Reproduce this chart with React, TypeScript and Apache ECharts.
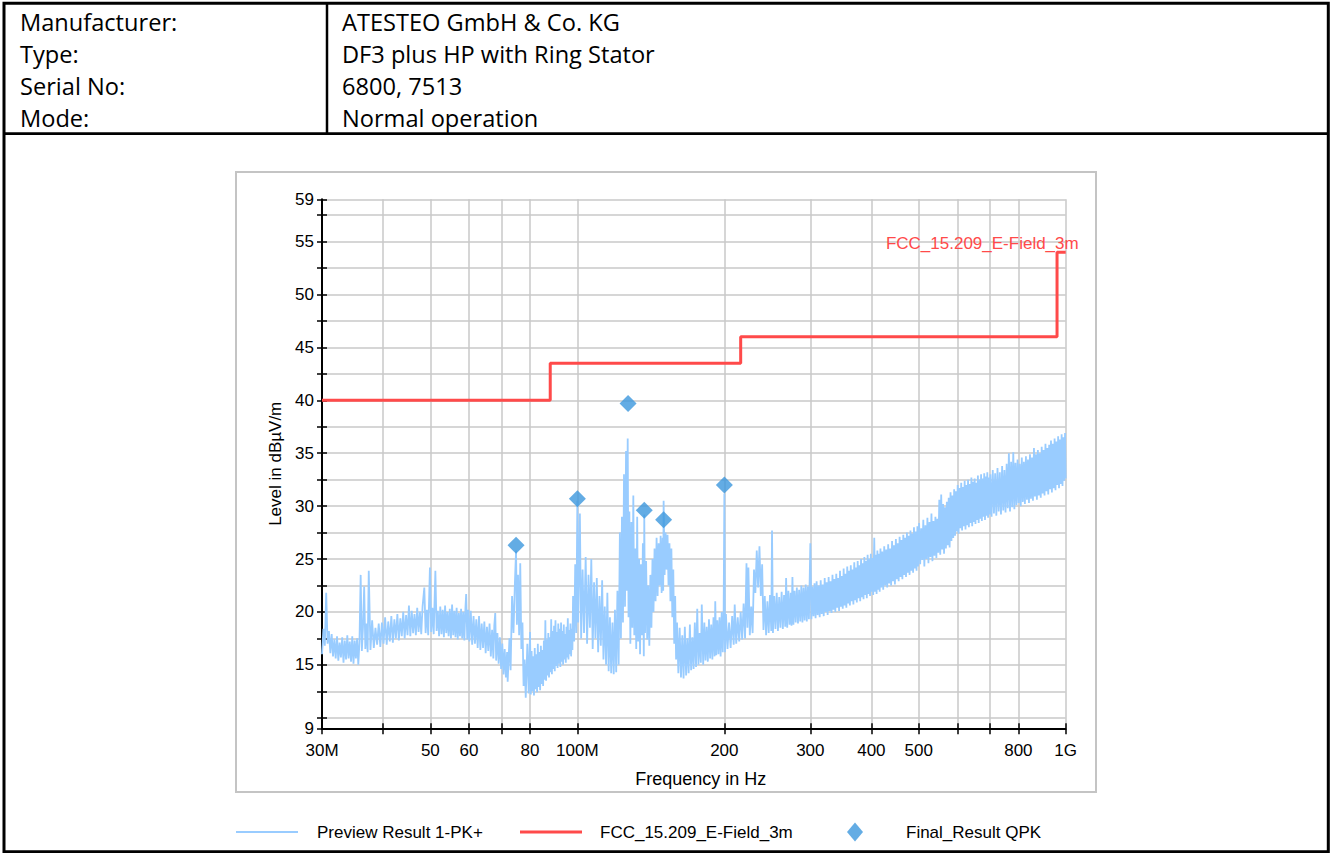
import React, { useEffect, useRef } from 'react';
import * as echarts from 'echarts';

const headerLabels = ['Manufacturer:', 'Type:', 'Serial No:', 'Mode:'];
const headerValues = ['ATESTEO GmbH & Co. KG', 'DF3 plus HP with Ring Stator', '6800, 7513', 'Normal operation'];

const limitName = 'FCC_15.209_E-Field_3m';
const traceName = 'Preview Result 1-PK+';
const qpkName = 'Final_Result QPK';

const limitFreqMHz = [30, 88, 216, 960, 1000];
const limitLevel = [40, 43.5, 46, 54, 54];

const qpkFreqMHz = [74.9, 100.0, 127.0, 137.1, 150.2, 200.0];
const qpkLevel = [26.3, 30.7, 39.7, 29.6, 28.7, 32.0];

const xTickFreqMHz = [30, 40, 50, 60, 70, 80, 100, 200, 300, 400, 500, 600, 700, 800, 1000];
const xLabelFreqMHz = [30, 50, 60, 80, 100, 200, 300, 400, 500, 800, 1000];
const xLabelText = ['30M', '50', '60', '80', '100M', '200', '300', '400', '500', '800', '1G'];

const yTickValues = [9, 10, 12.5, 15, 17.5, 20, 22.5, 25, 27.5, 30, 32.5, 35, 37.5, 40, 42.5, 45, 47.5, 50, 52.5, 55, 57.5, 59];
const yLabelValues = [9, 15, 20, 25, 30, 35, 40, 45, 50, 55, 59];

// [frequency in MHz, level in dBµV/m]
const previewTrace: [number, number][] = [
  [30.0, 16.0], [30.2, 18.4], [30.4, 16.8], [30.6, 21.8], [30.8, 17.0], [31.0, 18.2], [31.2, 16.1], [31.4, 17.9],
  [31.6, 15.8], [31.8, 17.4], [32.0, 15.6], [32.2, 17.7], [32.4, 15.4], [32.6, 17.1], [32.8, 15.7], [33.0, 17.6],
  [33.2, 15.2], [33.4, 17.3], [33.6, 15.5], [33.8, 17.8], [34.0, 15.6], [34.2, 17.2], [34.4, 15.3], [34.6, 17.7],
  [34.8, 15.1], [35.0, 17.3], [35.2, 15.6], [35.4, 17.5], [35.6, 15.0], [35.8, 17.2], [36.0, 23.5], [36.2, 16.3],
  [36.4, 18.6], [36.6, 22.4], [36.8, 16.5], [37.0, 18.9], [37.2, 16.2], [37.4, 23.9],
  [37.7, 16.4], [38.0, 19.2], [38.3, 16.6], [38.6, 18.5], [38.9, 16.9], [39.2, 18.9], [39.5, 16.7], [39.8, 19.0],
  [40.1, 17.0], [40.4, 19.5], [40.7, 16.9], [41.0, 19.1], [41.3, 17.2], [41.6, 19.6], [41.9, 17.1], [42.2, 19.3],
  [42.5, 17.5], [42.8, 19.8], [43.1, 17.3], [43.4, 19.4], [43.7, 17.7], [44.0, 20.0], [44.3, 17.5], [44.6, 19.7],
  [44.9, 17.8], [45.2, 20.6], [45.5, 17.7], [45.8, 20.1], [46.1, 18.0], [46.4, 19.8], [46.7, 17.8], [47.0, 20.4],
  [47.3, 18.1], [47.6, 20.0], [47.9, 17.9], [48.2, 20.5], [48.6, 22.3], [48.9, 18.0], [49.2, 20.2], [49.5, 17.8],
  [49.9, 24.2], [50.2, 18.1], [50.5, 20.4], [50.8, 17.9], [51.2, 23.9], [51.5, 18.2], [51.8, 20.1], [52.1, 17.7],
  [52.4, 20.5], [52.7, 17.9], [53.0, 20.2], [53.3, 17.6], [53.6, 20.6], [53.9, 18.0], [54.2, 20.0], [54.5, 17.7],
  [54.8, 20.3], [55.1, 17.5], [55.4, 20.7], [55.7, 17.8], [56.0, 20.1], [56.3, 17.6], [56.6, 20.4], [56.9, 17.4],
  [57.2, 19.9], [57.5, 17.7], [57.8, 20.3], [58.1, 17.5], [58.4, 20.0], [58.7, 17.3], [59.0, 20.4], [59.2, 21.7],
  [59.5, 17.4], [59.8, 20.2], [60.1, 17.2], [60.5, 20.1], [60.9, 16.9], [61.3, 19.6], [61.7, 17.0], [62.1, 19.3],
  [62.5, 16.6], [62.9, 19.6], [63.3, 16.4], [63.7, 18.9], [64.1, 16.6], [64.5, 19.1], [64.9, 16.1], [65.3, 18.6],
  [65.7, 16.3], [66.1, 18.9], [66.5, 15.8], [66.9, 18.3], [67.3, 15.6], [67.6, 18.7], [67.9, 19.9], [68.2, 15.4],
  [68.6, 18.0], [69.0, 15.1], [69.4, 17.6], [69.8, 14.6], [70.2, 17.0], [70.6, 14.1], [71.0, 16.5], [71.4, 13.8],
  [71.8, 16.2], [72.0, 13.4],
  [72.6, 17.5], [73.0, 14.5], [73.5, 21.5], [74.0, 18.0], [74.5, 22.8], [74.9, 25.8], [75.2, 18.8], [75.6, 23.5],
  [76.0, 17.8], [76.4, 24.6], [76.8, 16.5], [77.2, 19.0], [77.6, 13.0], [78.0, 15.5], [78.4, 11.9], [79.0, 17.0],
  [79.5, 12.3], [80.0, 18.1],
  [80.3, 12.2], [80.6, 16.3], [80.9, 12.5], [81.2, 15.8], [81.5, 12.1], [81.8, 16.6], [82.1, 12.7], [82.4, 16.0],
  [82.7, 12.4], [83.0, 17.0], [83.3, 12.9], [83.6, 16.2], [83.9, 12.6], [84.2, 16.8], [84.5, 13.2], [84.8, 16.4],
  [85.1, 13.0], [85.4, 17.3], [85.7, 13.6], [86.0, 19.2], [86.3, 13.5], [86.6, 17.4], [86.9, 14.0], [87.2, 18.0],
  [87.5, 13.8], [87.8, 17.6], [88.1, 14.3], [88.4, 19.3], [88.7, 14.1], [89.0, 18.2], [89.3, 14.6], [89.6, 18.7],
  [89.9, 14.4], [90.2, 19.2], [90.5, 14.9], [90.8, 18.1], [91.1, 14.7], [91.4, 18.9], [91.7, 15.1], [92.0, 18.4],
  [92.3, 14.8], [92.6, 19.0], [92.9, 15.3], [93.2, 18.2], [93.5, 15.0], [93.8, 18.8], [94.1, 15.5], [94.4, 17.9],
  [94.7, 15.2], [95.0, 18.6], [95.3, 15.7], [95.6, 19.4], [95.9, 15.5], [96.2, 18.3], [96.5, 16.0], [96.8, 18.9],
  [97.1, 15.8], [97.4, 18.4], [97.7, 16.4], [98.0, 21.5], [98.5, 17.2], [99.0, 24.5], [99.5, 18.0], [100.0, 30.5],
  [100.4, 19.0], [100.8, 24.0], [101.2, 29.3],
  [101.8, 17.5], [102.5, 24.0], [103.2, 18.0], [104.0, 25.2], [104.7, 17.0], [105.4, 23.5], [106.1, 18.5], [106.8, 25.0],
  [107.5, 16.5], [108.2, 22.8], [108.9, 17.5], [109.6, 23.2], [110.3, 16.2], [111.0, 21.5], [111.7, 16.8], [112.4, 23.0],
  [113.1, 15.5], [113.8, 20.5], [114.5, 15.0], [115.2, 21.8], [115.9, 14.4], [116.6, 19.5], [117.3, 14.2], [118.0, 19.0],
  [118.7, 14.1], [119.4, 20.2], [120.1, 14.3], [120.8, 22.0], [121.5, 15.0], [122.2, 27.5], [122.8, 17.5], [123.4, 29.0],
  [124.0, 19.0], [124.6, 33.0], [125.2, 20.5], [125.8, 35.2], [126.3, 22.0], [126.8, 36.4], [127.3, 19.5], [127.8, 29.5],
  [128.4, 17.0], [129.0, 28.5], [129.6, 18.5], [130.2, 31.0], [130.8, 17.8], [131.4, 26.0], [132.0, 16.5], [132.6, 29.0],
  [133.2, 17.2], [133.8, 25.0], [134.4, 16.0], [135.0, 24.5], [135.6, 17.8], [136.2, 26.5], [136.8, 15.8], [137.1, 29.2],
  [137.6, 18.0], [138.3, 24.8], [139.0, 17.4], [139.7, 22.5], [140.4, 16.8], [141.1, 23.5], [141.8, 18.5], [142.5, 25.0],
  [143.2, 20.0], [143.9, 26.0], [144.6, 21.0], [145.3, 27.0], [146.0, 21.5], [146.7, 26.5], [147.4, 22.5], [148.1, 27.2],
  [148.8, 21.8], [149.5, 27.0], [149.9, 22.0], [150.2, 30.5], [150.9, 23.5], [151.6, 27.5], [152.3, 24.0], [153.0, 27.3],
  [153.7, 22.5], [154.4, 26.5], [155.1, 21.0], [155.8, 26.0], [156.5, 19.5], [157.2, 24.0], [157.9, 17.0], [158.6, 21.5],
  [159.3, 15.5], [160.0, 19.0], [161.0, 14.2], [162.0, 18.5], [163.0, 13.8], [164.0, 17.8], [165.0, 13.7], [166.0, 18.6],
  [167.0, 14.0], [168.0, 17.5], [169.0, 14.2], [170.0, 18.8], [171.0, 14.5], [172.0, 17.6], [173.0, 14.6], [174.0, 19.0],
  [175.0, 14.8], [176.0, 20.3], [177.0, 15.0], [178.0, 18.0], [179.0, 15.2], [179.8, 20.7], [181.0, 15.0], [182.0, 19.0],
  [183.0, 15.4], [184.0, 18.6], [185.0, 15.3], [186.0, 19.3], [187.0, 15.6], [188.0, 18.8], [189.0, 15.5], [190.0, 19.5],
  [191.0, 15.8], [191.6, 21.0], [192.5, 15.9], [193.5, 19.2], [194.5, 16.0], [195.5, 19.5], [196.5, 15.8], [197.5, 20.0],
  [198.5, 16.2], [199.3, 19.5], [200.0, 31.2], [200.6, 16.2],
  [201.5, 19.8], [203.0, 16.5], [204.5, 19.0], [206.0, 16.6], [207.5, 19.6], [209.0, 16.9], [210.0, 20.7], [211.5, 17.0],
  [213.0, 19.5], [214.5, 17.2], [216.0, 20.0], [217.5, 17.4], [219.0, 20.8], [220.5, 17.5], [222.0, 24.6], [223.0, 18.5],
  [224.0, 24.2], [225.5, 17.8], [227.0, 20.5], [228.5, 18.0], [230.0, 24.0], [231.5, 21.8], [233.0, 25.8], [234.5, 22.3],
  [236.0, 26.2], [237.5, 21.5], [239.0, 24.5], [240.5, 18.3], [242.0, 21.5], [243.5, 17.8], [245.0, 21.0], [246.5, 18.0],
  [248.0, 21.6], [249.5, 18.2], [250.4, 27.7], [251.5, 18.0], [253.0, 21.5], [254.5, 18.4], [256.0, 21.8], [257.5, 18.2],
  [259.0, 21.4], [260.5, 18.5], [262.0, 21.9], [263.5, 18.4], [265.0, 21.6], [266.5, 18.6], [267.6, 23.2], [269.0, 18.5],
  [270.5, 22.0], [272.0, 18.8], [273.5, 21.8], [274.5, 18.7], [275.7, 23.3], [277.0, 18.8], [278.5, 22.0], [280.0, 19.0],
  [281.5, 22.3], [283.0, 18.9], [284.5, 22.1], [286.0, 19.1], [287.5, 22.5], [289.0, 19.0], [290.5, 22.3], [292.0, 19.2],
  [293.5, 22.6], [295.0, 19.1], [296.5, 22.4], [298.0, 19.3], [300.0, 26.5], [301.5, 19.3],
  [303, 22.4], [304.5, 19.6], [306, 22.7], [307.5, 19.4], [309, 22.9], [310.5, 19.7], [312, 22.5], [313.5, 19.5],
  [315, 23.0], [316.5, 19.8], [318, 22.6], [319.5, 19.6], [321, 23.2], [322.5, 20.0], [324, 22.8], [325.5, 19.7],
  [327, 23.3], [328.5, 20.1], [330, 22.9], [331.5, 19.9], [333, 23.5], [334.5, 20.2], [336, 23.1], [337.5, 20.0],
  [339, 23.6], [340.5, 20.4], [342, 23.2], [343.5, 20.1], [345, 23.9], [346.5, 20.5], [348, 23.4], [349.5, 20.3],
  [351, 24.1], [352.5, 20.6], [354, 23.6], [355.5, 20.4], [357, 24.3], [358.5, 20.8], [360, 23.9], [361.5, 20.6],
  [363, 24.4], [364.5, 21.0], [366, 24.0], [367.5, 20.7], [369, 24.7], [370.5, 21.1], [372, 24.2], [373.5, 20.9],
  [375, 24.8], [376.5, 21.3], [378, 24.4], [379.5, 21.0], [381, 25.0], [382.5, 21.4], [384, 24.6], [385.5, 21.2],
  [387, 25.2], [388.5, 21.6], [390, 24.8], [391.5, 21.3], [393, 25.4], [394.5, 21.7], [396, 25.0], [397.5, 21.5],
  [399, 25.5], [400.5, 21.9], [402, 25.1], [403.5, 21.6], [405.5, 27.0], [407, 21.9], [408.5, 25.4], [410, 21.7],
  [411.5, 25.8], [413, 22.1], [414.5, 25.5], [416, 21.9], [417.5, 26.0], [419, 22.3],
  [421, 25.7], [423, 22.1], [425, 26.2], [427, 22.5], [429, 25.9], [431, 22.3], [433, 26.4], [435, 22.7],
  [437, 26.0], [439, 22.5], [441, 26.7], [443, 22.9], [445, 26.3], [447, 22.6], [449, 26.9], [451, 23.1],
  [453, 26.5], [455, 22.9], [457, 27.1], [459, 23.3], [461, 26.8], [463, 23.1], [465, 27.3], [467, 23.5],
  [469, 27.0], [471, 23.3], [473, 27.5], [475, 23.7], [477, 27.2], [479, 23.5], [481, 27.7], [483, 23.9],
  [485, 27.4], [487, 23.7], [489, 28.0], [491, 24.1], [493, 27.6], [495, 23.9], [497, 28.1], [498.5, 24.3],
  [501, 28.4], [503.5, 24.5], [506, 27.9], [508.5, 24.9], [511, 28.7], [513.5, 24.3], [516, 28.2], [518.5, 25.0],
  [521, 28.9], [523.5, 24.6], [526, 28.5], [528.5, 25.2], [531, 29.3], [533.5, 24.8], [536, 28.6], [538.5, 25.3],
  [541, 29.0], [543.5, 25.1], [546, 28.8], [548.5, 25.6], [551, 30.6], [553.5, 25.4], [556, 31.1], [558.5, 25.9],
  [561, 30.2], [563.5, 25.5], [566, 29.9], [568.5, 26.0], [571, 30.4], [573.5, 26.3], [576, 30.8], [578.5, 26.1],
  [581, 31.3], [583.5, 26.7], [586, 31.0], [588.5, 27.0], [591, 31.6], [593.5, 27.2], [596, 31.4], [598.5, 27.6],
  [601, 32.0], [603.5, 27.4], [606, 31.7], [608.5, 27.9], [611, 32.2], [613.5, 27.7], [616, 31.8], [618.5, 28.1],
  [621, 32.4], [623.5, 27.8], [626, 32.0], [628.5, 28.2], [631, 32.5], [633.5, 28.0], [636, 32.1], [638.5, 28.4],
  [641, 32.7], [643.5, 28.1], [646, 32.3], [648.5, 28.5], [651, 32.6], [653.5, 28.3], [656, 32.2], [658.5, 28.7],
  [661, 32.9], [663.5, 28.4], [666, 32.5], [668.5, 28.8], [671, 33.0], [673.5, 28.6], [676, 32.6], [678.5, 29.0],
  [681, 33.1], [683.5, 28.7], [686, 32.8], [688.5, 29.1], [691, 33.2], [693.5, 28.9], [696, 32.7], [698.5, 29.2],
  [701, 33.0], [705, 29.0], [709, 33.4], [713, 29.3], [717, 33.1], [721, 29.1], [725, 33.6], [729, 29.5],
  [733, 33.2], [737, 29.2], [741, 33.8], [745, 29.6], [749, 33.4], [753, 29.4], [757, 34.0], [761, 29.8],
  [765, 35.0], [769, 29.5], [773, 34.2], [777, 29.9], [781, 35.1], [785, 29.7], [789, 34.1], [793, 30.1],
  [797, 34.4], [801, 30.3], [805, 34.0], [809, 30.0], [813, 34.6], [817, 30.4], [821, 34.2], [825, 30.2],
  [829, 34.7], [833, 30.6], [837, 34.4], [841, 30.3], [845, 34.9], [849, 30.7], [853, 34.6], [857, 30.5],
  [861, 35.5], [865, 30.9], [869, 34.9], [873, 30.6], [877, 35.3], [881, 31.0], [885, 35.0], [889, 30.8],
  [893, 35.6], [897, 31.2], [901, 35.3], [905, 31.0], [909, 35.9], [913, 31.4], [917, 35.5], [921, 31.1],
  [925, 35.8], [929, 31.6], [933, 36.2], [937, 31.3], [941, 35.9], [945, 31.7], [949, 36.4], [953, 31.5],
  [957, 36.1], [961, 32.0], [965, 36.6], [969, 31.7], [973, 36.3], [977, 32.1], [981, 36.8], [985, 31.9],
  [989, 36.5], [993, 32.4], [997, 36.9], [1000, 32.6],
];

const CHART_FONT = '"Liberation Sans", Arial, Helvetica, sans-serif';
const HEADER_FONT = '"Open Sans", "Noto Sans", sans-serif';

const lg = (f: number) => Math.log10(f);

export default function App() {
  const ref = useRef<HTMLDivElement>(null);

  useEffect(() => {
    if (!ref.current) return;
    const chart = echarts.init(ref.current, undefined, { renderer: 'svg' });

    const xMin = lg(30);
    const xMax = lg(1000);
    const xTickVals = xTickFreqMHz.map(lg);
    const xLabelVals = xLabelFreqMHz.map(lg);
    const fmtX = (v: number) => {
      const i = xLabelVals.findIndex((t) => Math.abs(t - v) < 1e-6);
      return i >= 0 ? xLabelText[i] : '';
    };

    const traceData = previewTrace.map(([f, v]) => [lg(f), v]);
    const limitData = limitFreqMHz.map((f, i) => [lg(f), limitLevel[i]]);
    const qpkData = qpkFreqMHz.map((f, i) => [lg(f), qpkLevel[i]]);

    const headerGraphics: any[] = [];
    headerLabels.forEach((t, i) => {
      headerGraphics.push({
        type: 'text',
        x: 20,
        y: 22 + i * 32,
        style: { text: t, fill: '#000', fontSize: 23.6, fontFamily: HEADER_FONT, verticalAlign: 'middle', align: 'left' },
      });
      headerGraphics.push({
        type: 'text',
        x: 342,
        y: 22 + i * 32,
        style: { text: headerValues[i], fill: '#000', fontSize: 23.6, fontFamily: HEADER_FONT, verticalAlign: 'middle', align: 'left' },
      });
    });

    const axisBlack = { color: '#000', width: 2 };
    const tickBlack = { color: '#000', width: 1.5 };
    const gridGray = { color: '#c8c8c8', width: 1.5 };

    chart.setOption({
      animation: false,
      backgroundColor: '#fff',
      graphic: [
        { type: 'rect', shape: { x: 4, y: 3.2, width: 1324.3, height: 848.5 }, style: { fill: 'none', stroke: '#000', lineWidth: 3 } },
        { type: 'line', shape: { x1: 4, y1: 133.7, x2: 1328.3, y2: 133.7 }, style: { stroke: '#000', lineWidth: 2.7 } },
        { type: 'line', shape: { x1: 327, y1: 3.2, x2: 327, y2: 133.7 }, style: { stroke: '#000', lineWidth: 2.5 } },
        { type: 'rect', shape: { x: 236, y: 172, width: 860, height: 620 }, style: { fill: 'none', stroke: '#c4c4c4', lineWidth: 2 } },
        ...headerGraphics,
      ],
      grid: { left: 322, top: 199.3, width: 743.7, height: 529, containLabel: false },
      legend: [
        {
          data: [traceName],
          left: 236,
          top: 823.5,
          padding: 0,
          icon: 'rect',
          itemWidth: 62,
          itemHeight: 2,
          selectedMode: false,
          textStyle: { fontSize: 17, color: '#000', fontFamily: CHART_FONT, padding: [0, 0, 0, 14] },
        },
        {
          data: [limitName],
          left: 520,
          top: 823.5,
          padding: 0,
          icon: 'rect',
          itemWidth: 62,
          itemHeight: 3,
          selectedMode: false,
          textStyle: { fontSize: 17, color: '#000', fontFamily: CHART_FONT, padding: [0, 0, 0, 13] },
        },
        {
          data: [qpkName],
          left: 847,
          top: 822.5,
          padding: 0,
          icon: 'diamond',
          itemWidth: 16,
          itemHeight: 19,
          selectedMode: false,
          textStyle: { fontSize: 17, color: '#000', fontFamily: CHART_FONT, padding: [0, 0, 0, 38] },
        },
      ],
      xAxis: [
        {
          type: 'value',
          min: xMin,
          max: xMax,
          position: 'bottom',
          name: 'Frequency in Hz',
          nameLocation: 'middle',
          nameGap: 42,
          nameTextStyle: { fontSize: 18, color: '#000', fontFamily: CHART_FONT, padding: [0, 0, 0, 14] },
          axisLine: { show: true, onZero: false, lineStyle: axisBlack },
          axisTick: { show: true, inside: false, length: 6, customValues: xTickVals, lineStyle: tickBlack },
          axisLabel: { customValues: xLabelVals, formatter: fmtX, margin: 14, fontSize: 17, color: '#000', fontFamily: CHART_FONT },
          splitLine: { show: true, lineStyle: gridGray },
        },
        {
          type: 'value',
          min: xMin,
          max: xMax,
          position: 'bottom',
          axisLine: { show: false, onZero: false },
          axisTick: { show: true, inside: true, length: 5, customValues: xTickVals, lineStyle: tickBlack },
          axisLabel: { show: false },
          splitLine: { show: false },
        },
      ],
      yAxis: [
        {
          type: 'value',
          min: 9,
          max: 59,
          position: 'left',
          name: 'Level in dBµV/m',
          nameLocation: 'middle',
          nameGap: 35,
          nameTextStyle: { fontSize: 17, color: '#000', fontFamily: CHART_FONT },
          axisLine: { show: true, onZero: false, lineStyle: axisBlack },
          axisTick: { show: true, inside: false, length: 5, customValues: yTickValues, lineStyle: tickBlack },
          axisLabel: { customValues: yLabelValues, margin: 8, fontSize: 17, color: '#000', fontFamily: CHART_FONT },
          splitLine: { show: true, lineStyle: gridGray },
        },
        {
          type: 'value',
          min: 9,
          max: 59,
          position: 'left',
          axisLine: { show: false, onZero: false },
          axisTick: { show: true, inside: true, length: 5, customValues: yTickValues, lineStyle: tickBlack },
          axisLabel: { show: false },
          splitLine: { show: false },
        },
      ],
      series: [
        {
          name: traceName,
          type: 'line',
          data: traceData,
          xAxisIndex: 0,
          yAxisIndex: 0,
          showSymbol: false,
          symbol: 'none',
          color: '#99ccff',
          lineStyle: { color: '#99ccff', width: 1.8, join: 'bevel' },
          z: 2,
        },
        {
          name: limitName,
          type: 'line',
          data: limitData,
          xAxisIndex: 0,
          yAxisIndex: 0,
          step: 'end',
          showSymbol: false,
          symbol: 'none',
          color: '#ff4a4a',
          lineStyle: { color: '#ff4a4a', width: 3 },
          endLabel: {
            show: true,
            formatter: limitName,
            color: '#ff4a4a',
            fontSize: 17,
            fontFamily: CHART_FONT,
            align: 'right',
            verticalAlign: 'bottom',
            distance: 13,
          },
          z: 3,
        },
        {
          name: qpkName,
          type: 'scatter',
          data: qpkData,
          xAxisIndex: 0,
          yAxisIndex: 0,
          symbol: 'diamond',
          symbolSize: 17,
          color: '#3c97dd',
          itemStyle: { color: '#3c97dd' },
          z: 4,
        },
      ],
    });

    return () => chart.dispose();
  }, []);

  return (
    <div
      ref={ref}
      style={{ position: 'absolute', left: 0, top: 0, width: 1332, height: 853, background: '#fff' }}
    />
  );
}
